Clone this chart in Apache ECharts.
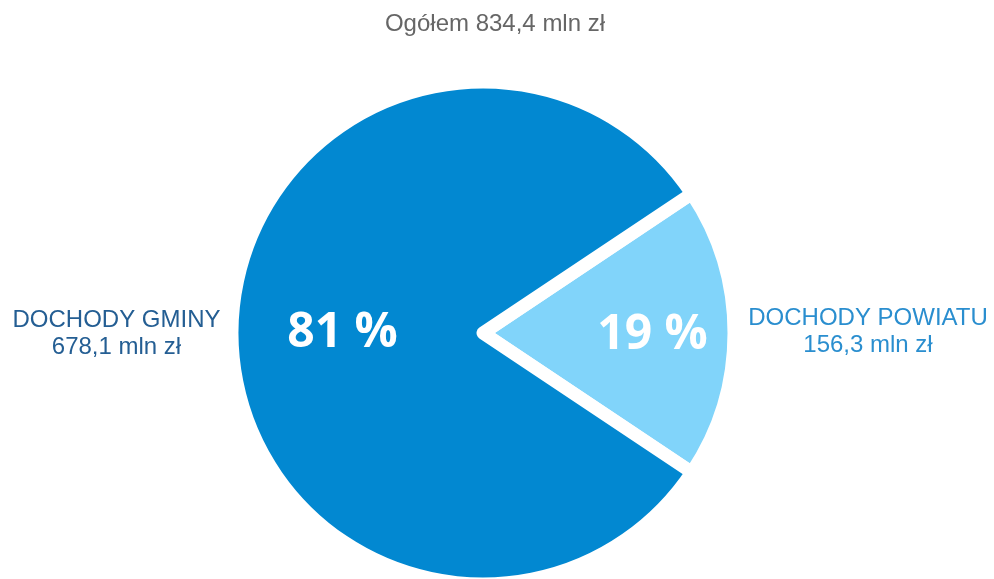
<!DOCTYPE html>
<html>
<head>
<meta charset="utf-8">
<script src="https://cdn.jsdelivr.net/npm/echarts@6/dist/echarts.min.js"></script>
<style>html,body{margin:0;padding:0;background:#fff;}#c{width:994px;height:579px;}</style>
</head>
<body>
<div id="c"></div>
<script>
var titleText = 'Ogółem 834,4 mln zł';
var categories = ['DOCHODY POWIATU', 'DOCHODY GMINY'];
var values = [156.3, 678.1];
var valueLabels = ['156,3 mln zł', '678,1 mln zł'];
var colors = ['#81D4FA', '#0288D1'];
var outerLabelColors = ['#2A8ECF', '#245E93'];

var total = values.reduce(function (a, b) { return a + b; }, 0);
var startAngle = 360 * values[0] / total / 2;

var chart = echarts.init(document.getElementById('c'));
var center = [483, 333];
var radius = 251;

var mainData = categories.map(function (c, i) {
  return { name: c, value: values[i], itemStyle: { color: colors[i] } };
});
var outerData = categories.map(function (c, i) {
  return {
    name: c, value: values[i],
    label: { color: outerLabelColors[i] }
  };
});

chart.setOption({
  animation: false,
  title: {
    text: titleText,
    left: 490, top: 7, textAlign: 'center',
    textStyle: { fontFamily: 'Liberation Sans', fontSize: 24, fontWeight: 'normal', color: '#666666' }
  },
  series: [
    {
      type: 'pie',
      center: center,
      radius: [0, radius],
      startAngle: startAngle,
      clockwise: true,
      avoidLabelOverlap: false,
      silent: true,
      itemStyle: { borderColor: '#ffffff', borderWidth: 13, borderJoin: 'round' },
      label: {
        show: true,
        position: 'inside',
        formatter: function (p) { return Math.round(p.percent) + ' %'; },
        fontFamily: 'Open Sans',
        fontWeight: 'bold',
        fontSize: 48,
        color: '#ffffff'
      },
      labelLayout: function (p) {
        return p.dataIndex === 0 ? { dx: 41, dy: 2 } : { dx: -12, dy: 0 };
      },
      labelLine: { show: false },
      data: mainData
    },
    {
      type: 'pie',
      center: center,
      radius: [0, radius],
      startAngle: startAngle,
      clockwise: true,
      silent: true,
      avoidLabelOverlap: false,
      itemStyle: { color: 'rgba(0,0,0,0)' },
      label: {
        show: true,
        position: 'outside',
        formatter: function (p) { return p.name + '\n' + valueLabels[p.dataIndex]; },
        fontFamily: 'Liberation Sans',
        fontSize: 24,
        lineHeight: 27,
        align: 'center'
      },
      labelLine: { show: false },
      labelLayout: function (p) {
        return p.dataIndex === 0
          ? { x: 868, y: 332, align: 'center', verticalAlign: 'middle' }
          : { x: 116.5, y: 334, align: 'center', verticalAlign: 'middle' };
      },
      data: outerData
    }
  ]
});
</script>
</body>
</html>
